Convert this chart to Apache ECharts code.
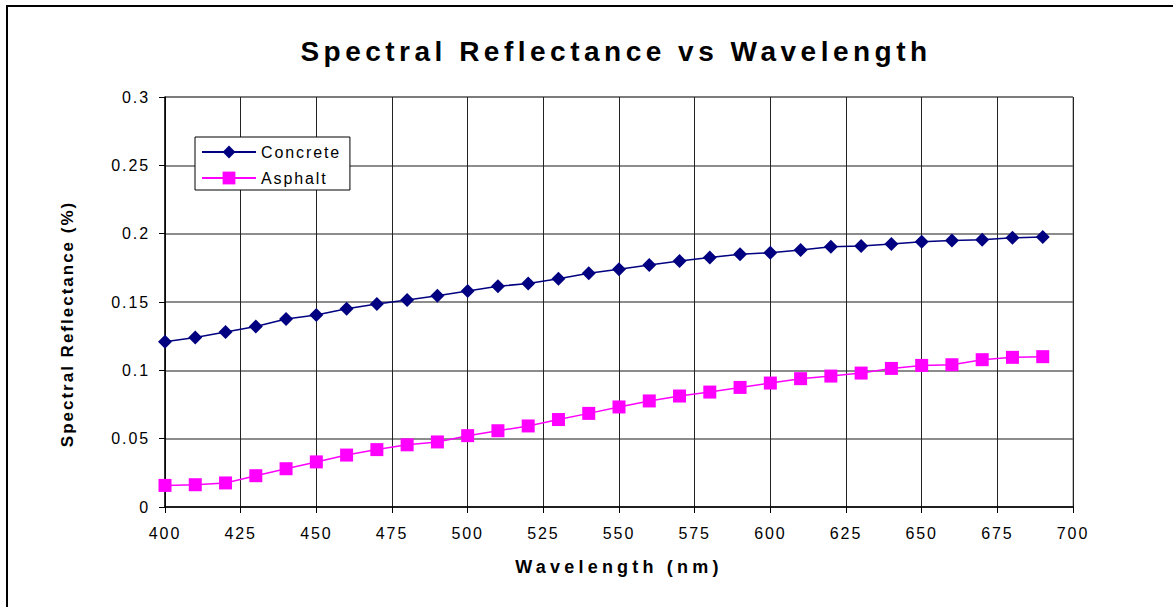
<!DOCTYPE html>
<html>
<head>
<meta charset="utf-8">
<script src="https://cdn.jsdelivr.net/npm/echarts@6/dist/echarts.min.js"></script>
<style>
html,body{margin:0;padding:0;background:#fff;}
#chart{width:1173px;height:607px;}
/* spaced-out lettering as in the reference */
#chart text[style*="28px"]{letter-spacing:4.5px;}
#chart text[style*="18px"]{letter-spacing:4.2px;}
#chart text[style*="17px"]{letter-spacing:2px;}
#chart text[style*="16px"]{letter-spacing:1.9px;}
</style>
</head>
<body>
<div id="chart"></div>
<script>
const wavelengths = [400,410,420,430,440,450,460,470,480,490,500,510,520,530,540,550,560,570,580,590,600,610,620,630,640,650,660,670,680,690];
const concrete = [0.121,0.124,0.128,0.132,0.1375,0.1405,0.145,0.1485,0.1515,0.1545,0.158,0.1615,0.1635,0.167,0.171,0.174,0.177,0.180,0.1825,0.185,0.186,0.188,0.1905,0.191,0.1925,0.194,0.195,0.1955,0.197,0.1975];
const asphalt = [0.0158,0.0163,0.0176,0.0229,0.028,0.033,0.038,0.042,0.0455,0.0476,0.0522,0.0558,0.0593,0.064,0.0685,0.0732,0.0776,0.0812,0.0841,0.0875,0.0907,0.0939,0.0958,0.098,0.1014,0.1036,0.1041,0.1078,0.1095,0.110];
const titleText = 'Spectral Reflectance vs Wavelength';
const xName = 'Wavelength (nm)';
const yName = 'Spectral Reflectance (%)';
const seriesNames = ['Concrete','Asphalt'];

const chart = echarts.init(document.getElementById('chart'), null, {renderer:'svg'});
const FONT = '"Liberation Sans", Arial, sans-serif';
chart.setOption({
  animation:false,
  backgroundColor:'#fff',
  graphic:[{type:'rect', shape:{x:7,y:6,width:1200,height:640}, style:{fill:'none', stroke:'#000', lineWidth:2}, silent:true}],
  title:{text:titleText, left:611, textAlign:'center', top:32, textStyle:{fontFamily:FONT, fontSize:28, fontWeight:'bold', color:'#000'}},
  legend:{
    orient:'vertical', left:195, top:137, padding:[7,24,4,6], itemGap:10,
    backgroundColor:'#fff', borderColor:'#000', borderWidth:1, borderRadius:0,
    itemWidth:54, itemHeight:16,
    textStyle:{fontFamily:FONT, fontSize:16, color:'#000'},
    data:[{name:seriesNames[0]},{name:seriesNames[1]}]
  },
  grid:{left:165, top:97, right:100, bottom:100, containLabel:false, show:true, borderColor:'#808080', borderWidth:1},
  xAxis:{
    type:'value', min:400, max:700, interval:25,
    name:xName, nameLocation:'middle', nameGap:51,
    nameTextStyle:{fontFamily:FONT, fontSize:18, fontWeight:'bold', color:'#000'},
    axisLine:{show:true, onZero:false, lineStyle:{color:'#000', width:1.5}},
    axisTick:{show:true, length:6, lineStyle:{color:'#000'}},
    axisLabel:{fontFamily:FONT, fontSize:16, color:'#000', margin:18},
    splitLine:{show:true, lineStyle:{color:'#222', width:1}}
  },
  yAxis:{
    type:'value', min:0, max:0.3, interval:0.05,
    name:yName, nameLocation:'middle', nameGap:89, nameRotate:90,
    nameTextStyle:{fontFamily:FONT, fontSize:17, fontWeight:'bold', color:'#000', padding:[0,44,0,0]},
    axisLine:{show:true, lineStyle:{color:'#000', width:1.5}},
    axisTick:{show:true, length:6, lineStyle:{color:'#000'}},
    axisLabel:{fontFamily:FONT, fontSize:16, color:'#000', margin:15},
    splitLine:{show:true, lineStyle:{color:'#666', width:1.5}}
  },
  series:[
    {name:seriesNames[0], type:'line', data:wavelengths.map((w,i)=>[w,concrete[i]]),
     symbol:'diamond', symbolSize:14, showSymbol:true,
     itemStyle:{color:'#000080'}, lineStyle:{color:'#000080', width:1.5}},
    {name:seriesNames[1], type:'line', data:wavelengths.map((w,i)=>[w,asphalt[i]]),
     symbol:'rect', symbolSize:13, showSymbol:true,
     itemStyle:{color:'#FF00FF'}, lineStyle:{color:'#FF00FF', width:1.5}}
  ]
});
</script>
</body>
</html>
